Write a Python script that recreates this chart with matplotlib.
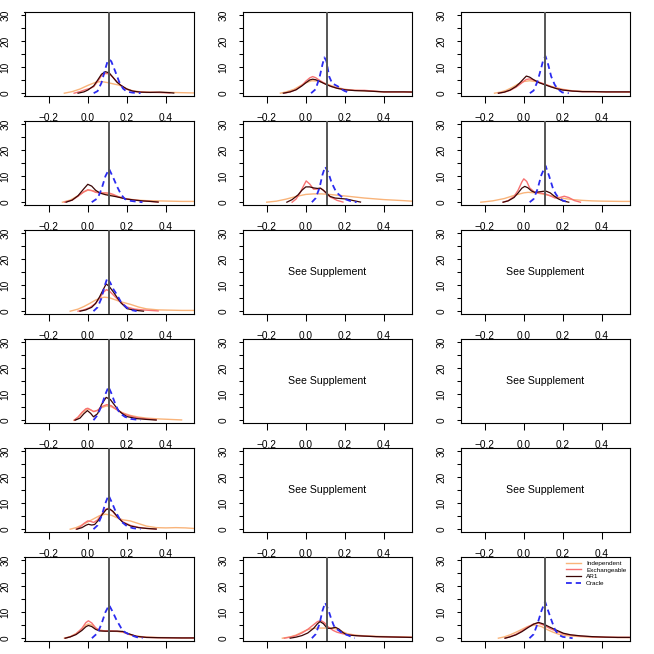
import matplotlib
matplotlib.use("Agg")
import matplotlib.pyplot as plt
from matplotlib.ticker import FixedLocator

plt.rcParams['font.family'] = ['Liberation Sans', 'DejaVu Sans']

# ---------------- data ----------------
true_value = 0.11
x_ticks = [-0.2, 0.0, 0.2, 0.4]
y_major = [0, 10, 20, 30]
y_minor = [5, 15, 25]
series_names = ["Independent", "Exchangeable", "AR1", "Oracle"]
series_colors = ["#F9B47A", "#F77272", "#3A0505", "#2B2BF0"]

# each panel: curve name -> (x values, density values)
panel_r1c1 = {
    "Independent": ([-0.12, -0.08, -0.04, 0.0, 0.04, 0.07, 0.1, 0.13, 0.16, 0.19, 0.22, 0.26, 0.3, 0.36, 0.42, 0.48, 0.54],
                    [0, 0.6, 1.6, 3.0, 4.2, 4.5, 4.1, 3.6, 3.1, 2.0, 1.1, 0.6, 0.4, 0.3, 0.3, 0.2, 0.1]),
    "Exchangeable": ([-0.07, -0.04, -0.01, 0.01, 0.03, 0.05, 0.07, 0.09, 0.11, 0.13, 0.15, 0.17, 0.2, 0.24, 0.3, 0.36, 0.42],
                     [0, 0.6, 1.4, 1.8, 2.5, 4.5, 6.8, 7.6, 7.5, 6.0, 4.3, 3.0, 1.5, 0.6, 0.3, 0.3, 0.1]),
    "AR1": ([-0.05, -0.02, 0.0, 0.03, 0.05, 0.07, 0.09, 0.11, 0.13, 0.15, 0.17, 0.2, 0.23, 0.27, 0.32, 0.37, 0.42, 0.44],
            [0, 0.5, 1.2, 2.8, 5.0, 7.3, 8.3, 7.8, 6.0, 4.2, 3.0, 1.6, 0.8, 0.4, 0.3, 0.4, 0.2, 0.05]),
    "Oracle": ([0.03, 0.05, 0.07, 0.09, 0.10, 0.11, 0.12, 0.14, 0.16, 0.18, 0.20, 0.23, 0.27],
               [0, 0.8, 4.0, 9.5, 12.0, 13.0, 12.3, 8.5, 4.5, 1.8, 0.6, 0.2, 0]),
}
panel_r1c2 = {
    "Independent": ([-0.13, -0.1, -0.06, -0.03, 0.0, 0.03, 0.06, 0.09, 0.12, 0.15, 0.2, 0.25, 0.3, 0.35, 0.4, 0.45, 0.5, 0.54],
                    [0, 0.5, 1.5, 2.8, 4.0, 4.8, 4.7, 4.0, 3.2, 2.4, 1.5, 1.1, 0.9, 0.7, 0.5, 0.5, 0.5, 0.45]),
    "Exchangeable": ([-0.11, -0.08, -0.05, -0.02, 0.0, 0.02, 0.035, 0.05, 0.07, 0.1, 0.13, 0.16, 0.2, 0.25, 0.3, 0.35, 0.4, 0.45, 0.5, 0.54],
                     [0, 0.5, 1.4, 3.0, 4.6, 5.9, 6.4, 6.0, 5.0, 3.6, 2.6, 1.9, 1.4, 1.1, 1.1, 0.8, 0.5, 0.5, 0.5, 0.45]),
    "AR1": ([-0.115, -0.08, -0.05, -0.02, 0.0, 0.02, 0.035, 0.05, 0.07, 0.1, 0.13, 0.16, 0.2, 0.25, 0.3, 0.35, 0.4, 0.45, 0.5, 0.54],
            [0, 0.5, 1.3, 2.8, 4.0, 5.1, 5.4, 5.2, 4.6, 3.5, 2.6, 1.9, 1.3, 1.0, 0.9, 0.7, 0.5, 0.5, 0.5, 0.45]),
    "Oracle": ([0.027, 0.05, 0.07, 0.085, 0.095, 0.105, 0.12, 0.135, 0.15, 0.165, 0.18, 0.2, 0.23],
               [0, 1.5, 6.0, 11.0, 13.8, 12.5, 6.4, 3.8, 3.2, 2.6, 1.6, 0.8, 0]),
}
panel_r1c3 = {
    "Independent": ([-0.15, -0.12, -0.09, -0.06, -0.03, 0.0, 0.03, 0.06, 0.09, 0.12, 0.15, 0.2, 0.25, 0.3, 0.36, 0.42, 0.48, 0.54],
                    [0, 0.4, 1.1, 2.2, 3.5, 4.5, 4.8, 4.5, 3.8, 3.1, 2.4, 1.5, 0.9, 0.7, 0.6, 0.5, 0.5, 0.4]),
    "Exchangeable": ([-0.13, -0.1, -0.07, -0.04, -0.02, 0.0, 0.013, 0.03, 0.05, 0.08, 0.11, 0.14, 0.17, 0.2, 0.25, 0.3, 0.36, 0.42, 0.48, 0.54],
                     [0, 0.4, 1.1, 2.3, 3.4, 4.6, 5.3, 5.5, 5.1, 4.2, 3.4, 2.5, 1.8, 1.3, 0.8, 0.6, 0.6, 0.5, 0.5, 0.5]),
    "AR1": ([-0.13, -0.1, -0.07, -0.04, -0.02, 0.0, 0.013, 0.03, 0.05, 0.08, 0.11, 0.14, 0.17, 0.2, 0.25, 0.3, 0.36, 0.42, 0.48, 0.54],
            [0, 0.4, 1.2, 2.6, 4.0, 5.6, 6.6, 6.2, 5.2, 4.0, 3.2, 2.4, 1.7, 1.2, 0.8, 0.6, 0.6, 0.5, 0.5, 0.5]),
    "Oracle": ([0.031, 0.05, 0.07, 0.09, 0.1, 0.111, 0.125, 0.14, 0.158, 0.175, 0.197, 0.23],
               [0, 1.0, 4.5, 10.0, 13.0, 14.3, 11.0, 6.5, 3.3, 1.5, 0.3, 0]),
}
panel_r2c1 = {
    "Independent": ([-0.13, -0.09, -0.05, -0.02, 0.0, 0.03, 0.06, 0.09, 0.12, 0.15, 0.2, 0.25, 0.3, 0.36, 0.42, 0.48, 0.54],
                    [0, 0.8, 2.5, 4.0, 4.6, 4.4, 3.6, 3.2, 2.8, 2.2, 1.3, 0.8, 0.6, 0.5, 0.4, 0.3, 0.3]),
    "Exchangeable": ([-0.12, -0.08, -0.05, -0.02, 0.0, 0.02, 0.04, 0.06, 0.09, 0.11, 0.13, 0.16, 0.2, 0.24, 0.28, 0.32, 0.36],
                     [0, 0.8, 2.3, 4.0, 4.8, 4.5, 3.8, 3.6, 3.6, 3.5, 3.0, 2.0, 1.2, 0.8, 0.5, 0.3, 0.05]),
    "AR1": ([-0.111, -0.08, -0.05, -0.02, 0.0, 0.02, 0.04, 0.063, 0.09, 0.11, 0.14, 0.17, 0.2, 0.24, 0.28, 0.32, 0.36],
            [0, 0.8, 2.5, 5.2, 6.9, 6.2, 4.6, 3.5, 2.9, 2.6, 2.2, 1.7, 1.2, 0.8, 0.5, 0.3, 0.05]),
    "Oracle": ([0.02, 0.05, 0.07, 0.09, 0.109, 0.13, 0.15, 0.17, 0.19, 0.22, 0.25, 0.28],
               [0, 1.5, 5.0, 10.0, 12.8, 9.5, 6.0, 3.0, 1.2, 0.5, 0.2, 0]),
}
panel_r2c2 = {
    "Independent": ([-0.2, -0.15, -0.1, -0.05, 0.0, 0.04, 0.08, 0.12, 0.16, 0.2, 0.25, 0.3, 0.35, 0.4, 0.45, 0.5, 0.54],
                    [0, 0.4, 1.2, 2.2, 3.0, 3.2, 3.2, 3.0, 2.7, 2.4, 2.0, 1.6, 1.3, 1.0, 0.8, 0.6, 0.4]),
    "Exchangeable": ([-0.07, -0.05, -0.03, -0.01, 0.002, 0.02, 0.04, 0.06, 0.075, 0.09, 0.11, 0.125, 0.14, 0.16, 0.19],
                     [0, 1.2, 3.5, 6.5, 8.2, 7.0, 5.0, 5.1, 5.4, 4.6, 3.0, 2.0, 1.5, 0.7, 0.05]),
    "AR1": ([-0.097, -0.07, -0.04, -0.02, 0.0, 0.02, 0.04, 0.06, 0.075, 0.09, 0.11, 0.125, 0.15, 0.18, 0.21, 0.25, 0.28],
            [0, 1.0, 2.8, 4.6, 5.9, 5.9, 5.5, 5.3, 5.4, 4.6, 3.2, 2.2, 1.6, 1.4, 1.2, 0.5, 0.05]),
    "Oracle": ([0.031, 0.05, 0.07, 0.085, 0.099, 0.115, 0.13, 0.142, 0.155, 0.167, 0.185, 0.2, 0.23, 0.26],
               [0, 1.5, 5.5, 10.5, 13.7, 11.5, 8.0, 6.0, 4.0, 3.1, 2.0, 1.2, 0.4, 0]),
}
panel_r2c3 = {
    "Independent": ([-0.22, -0.16, -0.1, -0.05, 0.0, 0.022, 0.06, 0.1, 0.15, 0.2, 0.25, 0.3, 0.35, 0.4, 0.45, 0.5, 0.54],
                    [0, 0.5, 1.4, 2.6, 3.6, 3.8, 3.6, 3.1, 2.3, 1.5, 1.0, 0.7, 0.5, 0.4, 0.35, 0.3, 0.3]),
    "Exchangeable": ([-0.106, -0.08, -0.05, -0.03, -0.01, 0.0, 0.015, 0.03, 0.056, 0.08, 0.11, 0.14, 0.16, 0.18, 0.207, 0.23, 0.26, 0.29],
                     [0, 0.6, 2.2, 4.5, 7.8, 9.0, 8.0, 5.5, 3.8, 3.6, 3.2, 2.3, 1.6, 1.7, 2.3, 1.8, 0.6, 0]),
    "AR1": ([-0.106, -0.08, -0.05, -0.03, -0.01, 0.005, 0.02, 0.04, 0.056, 0.08, 0.1, 0.116, 0.135, 0.155, 0.176, 0.2, 0.23],
            [0, 0.5, 1.8, 3.5, 5.4, 6.1, 5.6, 4.3, 3.8, 4.0, 4.2, 4.2, 3.6, 2.4, 1.3, 0.5, 0]),
    "Oracle": ([0.03, 0.05, 0.07, 0.09, 0.111, 0.13, 0.15, 0.165, 0.176, 0.2, 0.23],
               [0, 1.2, 5.0, 10.5, 14.1, 10.0, 5.1, 3.0, 1.9, 0.6, 0]),
}
panel_r3c1 = {
    "Independent": ([-0.09, -0.05, -0.02, 0.01, 0.04, 0.07, 0.085, 0.11, 0.14, 0.17, 0.2, 0.22, 0.26, 0.3, 0.36, 0.42, 0.48, 0.54],
                    [0, 0.8, 1.8, 3.0, 4.3, 5.2, 5.4, 5.2, 4.4, 3.6, 3.0, 2.6, 1.6, 0.9, 0.5, 0.4, 0.3, 0.3]),
    "Exchangeable": ([-0.05, -0.02, 0.01, 0.04, 0.06, 0.08, 0.095, 0.11, 0.13, 0.15, 0.17, 0.2, 0.24, 0.28, 0.32, 0.36],
                     [0, 0.5, 1.4, 3.0, 5.0, 7.3, 8.3, 7.8, 6.3, 4.8, 3.3, 1.6, 0.8, 0.5, 0.3, 0.1]),
    "AR1": ([-0.04, -0.01, 0.02, 0.04, 0.06, 0.08, 0.094, 0.11, 0.13, 0.149, 0.17, 0.2, 0.23, 0.26, 0.285],
            [0, 0.5, 1.5, 3.0, 5.5, 8.5, 10.5, 9.5, 7.5, 5.4, 3.2, 1.0, 0.5, 0.2, 0]),
    "Oracle": ([0.029, 0.05, 0.07, 0.085, 0.1, 0.115, 0.13, 0.149, 0.17, 0.2, 0.225, 0.25],
               [0, 1.5, 5.0, 9.5, 12.8, 11.0, 8.6, 6.4, 3.5, 1.3, 0.4, 0]),
}
panel_r4c1 = {
    "Independent": ([-0.07, -0.05, -0.03, -0.01, 0.0, 0.015, 0.03, 0.05, 0.07, 0.095, 0.12, 0.15, 0.18, 0.22, 0.26, 0.3, 0.36, 0.42, 0.48],
                    [0, 1.0, 2.7, 4.0, 4.3, 3.9, 3.4, 3.8, 4.8, 5.5, 5.2, 4.0, 2.8, 1.8, 1.2, 0.8, 0.5, 0.3, 0.1]),
    "Exchangeable": ([-0.07, -0.05, -0.03, -0.01, 0.0, 0.015, 0.03, 0.05, 0.07, 0.097, 0.12, 0.14, 0.17, 0.2, 0.25, 0.3, 0.35],
                     [0, 1.2, 3.0, 4.4, 4.6, 4.0, 3.3, 3.8, 5.2, 6.0, 5.6, 4.5, 3.0, 2.0, 1.0, 0.5, 0.2]),
    "AR1": ([-0.065, -0.04, -0.02, -0.002, 0.015, 0.029, 0.05, 0.07, 0.094, 0.115, 0.14, 0.16, 0.175, 0.2, 0.25, 0.3, 0.35],
            [0, 0.8, 2.5, 3.7, 2.6, 1.3, 2.5, 6.0, 8.8, 8.0, 5.5, 3.6, 2.6, 1.4, 0.6, 0.3, 0.05]),
    "Oracle": ([0.029, 0.05, 0.07, 0.09, 0.106, 0.12, 0.14, 0.155, 0.166, 0.19, 0.22, 0.27],
               [0, 2.0, 5.5, 10.0, 12.9, 10.5, 6.4, 3.8, 2.6, 1.3, 0.5, 0]),
}
panel_r5c1 = {
    "Independent": ([-0.09, -0.06, -0.03, 0.0, 0.03, 0.06, 0.09, 0.12, 0.15, 0.18, 0.217, 0.25, 0.3, 0.35, 0.4, 0.45, 0.5, 0.54],
                    [0, 0.6, 1.6, 2.8, 4.0, 5.2, 5.8, 5.4, 4.4, 3.6, 3.2, 2.4, 1.2, 0.6, 0.5, 0.6, 0.5, 0.3]),
    "Exchangeable": ([-0.06, -0.04, -0.02, 0.0, 0.015, 0.03, 0.05, 0.07, 0.09, 0.106, 0.125, 0.15, 0.18, 0.22, 0.26, 0.3, 0.35],
                     [0, 0.8, 2.2, 3.2, 3.0, 2.6, 3.6, 5.6, 7.6, 8.1, 7.0, 4.8, 2.8, 1.4, 0.7, 0.3, 0.05]),
    "AR1": ([-0.056, -0.03, -0.01, 0.003, 0.02, 0.035, 0.055, 0.075, 0.095, 0.11, 0.13, 0.155, 0.18, 0.22, 0.26, 0.3, 0.35],
            [0, 0.6, 1.5, 1.9, 1.6, 1.8, 3.5, 5.8, 7.6, 7.9, 6.8, 4.5, 2.6, 1.2, 0.6, 0.3, 0.05]),
    "Oracle": ([0.029, 0.05, 0.07, 0.09, 0.106, 0.125, 0.145, 0.17, 0.2, 0.23, 0.27],
               [0, 1.5, 5.0, 10.0, 13.1, 10.0, 6.4, 3.0, 1.2, 0.4, 0]),
}
panel_r6c1 = {
    "Independent": ([-0.12, -0.09, -0.06, -0.03, -0.01, 0.003, 0.02, 0.04, 0.06, 0.09, 0.12, 0.15, 0.18, 0.21, 0.25, 0.3, 0.36, 0.42, 0.48, 0.54],
                    [0, 0.6, 1.8, 3.6, 5.0, 5.5, 5.1, 3.9, 3.1, 2.8, 2.7, 2.6, 2.3, 1.5, 0.8, 0.4, 0.25, 0.2, 0.15, 0.1]),
    "Exchangeable": ([-0.116, -0.09, -0.06, -0.03, -0.01, 0.003, 0.02, 0.04, 0.06, 0.09, 0.12, 0.15, 0.18, 0.21, 0.25, 0.3, 0.36, 0.42, 0.48, 0.54],
                     [0, 0.5, 1.6, 3.8, 6.0, 6.7, 5.9, 4.0, 3.0, 2.8, 2.8, 2.7, 2.4, 1.5, 0.7, 0.3, 0.2, 0.15, 0.1, 0.1]),
    "AR1": ([-0.116, -0.09, -0.06, -0.03, -0.01, 0.003, 0.02, 0.04, 0.06, 0.09, 0.12, 0.15, 0.18, 0.21, 0.25, 0.3, 0.36, 0.42, 0.48, 0.54],
            [0, 0.5, 1.4, 3.0, 4.4, 4.9, 4.5, 3.4, 2.8, 2.7, 2.7, 2.7, 2.6, 1.7, 0.7, 0.3, 0.2, 0.15, 0.1, 0.1]),
    "Oracle": ([0.021, 0.05, 0.07, 0.09, 0.109, 0.125, 0.147, 0.17, 0.19, 0.215, 0.25, 0.28],
               [0, 2.0, 5.5, 10.0, 12.8, 10.5, 7.0, 4.0, 2.3, 1.3, 0.4, 0]),
}
panel_r6c2 = {
    "Independent": ([-0.12, -0.08, -0.05, -0.02, 0.01, 0.04, 0.07, 0.1, 0.13, 0.15, 0.18, 0.21, 0.25, 0.3, 0.36, 0.42, 0.48, 0.54],
                    [0, 0.5, 1.2, 2.3, 3.3, 3.8, 3.9, 3.9, 3.9, 3.7, 2.8, 1.8, 1.2, 0.9, 0.7, 0.6, 0.5, 0.4]),
    "Exchangeable": ([-0.11, -0.08, -0.05, -0.02, 0.01, 0.04, 0.06, 0.077, 0.095, 0.115, 0.14, 0.16, 0.19, 0.22, 0.26, 0.3, 0.36, 0.42, 0.48, 0.54],
                     [0, 0.4, 1.0, 2.0, 3.4, 5.2, 6.4, 6.8, 6.0, 4.3, 3.0, 2.3, 1.7, 1.3, 1.0, 0.8, 0.6, 0.5, 0.4, 0.3]),
    "AR1": ([-0.08, -0.05, -0.02, 0.01, 0.04, 0.06, 0.073, 0.09, 0.11, 0.13, 0.152, 0.17, 0.19, 0.21, 0.25, 0.3, 0.36, 0.42, 0.48, 0.54],
            [0, 0.4, 1.0, 2.0, 3.8, 5.6, 6.4, 5.6, 3.8, 3.8, 4.2, 3.5, 2.2, 1.3, 1.0, 0.8, 0.6, 0.5, 0.4, 0.3]),
    "Oracle": ([0.031, 0.05, 0.07, 0.085, 0.099, 0.115, 0.13, 0.142, 0.152, 0.165, 0.19, 0.21, 0.25],
               [0, 1.5, 5.5, 10.5, 13.7, 11.0, 7.5, 5.1, 3.6, 3.2, 1.8, 1.3, 0]),
}
panel_r6c3 = {
    "Independent": ([-0.13, -0.1, -0.07, -0.04, -0.01, 0.02, 0.058, 0.09, 0.12, 0.15, 0.18, 0.22, 0.27, 0.33, 0.4, 0.47, 0.54],
                    [0, 0.5, 1.3, 2.3, 3.4, 4.5, 5.1, 4.5, 3.3, 2.3, 1.5, 1.0, 0.7, 0.5, 0.35, 0.3, 0.25]),
    "Exchangeable": ([-0.096, -0.07, -0.04, -0.01, 0.02, 0.05, 0.075, 0.1, 0.135, 0.17, 0.203, 0.24, 0.29, 0.35, 0.42, 0.48, 0.54],
                     [0, 0.6, 1.5, 2.8, 4.3, 5.5, 5.8, 5.1, 3.7, 2.6, 1.7, 1.2, 0.8, 0.5, 0.4, 0.3, 0.3]),
    "AR1": ([-0.096, -0.07, -0.04, -0.01, 0.02, 0.05, 0.075, 0.1, 0.135, 0.17, 0.203, 0.24, 0.29, 0.35, 0.42, 0.48, 0.54],
            [0, 0.5, 1.3, 2.5, 4.0, 5.4, 6.1, 5.5, 4.2, 3.0, 1.9, 1.3, 0.9, 0.6, 0.4, 0.3, 0.3]),
    "Oracle": ([0.029, 0.05, 0.07, 0.09, 0.109, 0.125, 0.144, 0.16, 0.178, 0.2, 0.25],
               [0, 1.5, 5.5, 10.5, 14.1, 10.5, 6.4, 3.2, 1.3, 0.5, 0]),
}

grid = [
    [panel_r1c1, panel_r1c2, panel_r1c3],
    [panel_r2c1, panel_r2c2, panel_r2c3],
    [panel_r3c1, None, None],
    [panel_r4c1, None, None],
    [panel_r5c1, None, None],
    [panel_r6c1, panel_r6c2, panel_r6c3],
]
placeholder_text = "See Supplement"

# ---------------- drawing ----------------
W = H = 654
fig = plt.figure(figsize=(6.54, 6.54), dpi=100)
fig.patch.set_facecolor("white")

cell_w, cell_h = 218, 109
box_l, box_w = 24.5, 169
box_t, box_h = 12.3, 84

styles = {
    "Independent": dict(color=series_colors[0], lw=1.0, ls="-"),
    "Exchangeable": dict(color=series_colors[1], lw=1.0, ls="-"),
    "AR1": dict(color=series_colors[2], lw=0.9, ls="-"),
    "Oracle": dict(color=series_colors[3], lw=1.3, ls=(0, (3.2, 2.2))),
}

for r in range(6):
    for c in range(3):
        left = c * cell_w + box_l
        top = r * cell_h + box_t
        ax = fig.add_axes([left / W, 1 - (top + box_h) / H, box_w / W, box_h / H])
        ax.set_xlim(-0.324, 0.541)
        ax.set_ylim(-1.2, 31.2)
        for s in ax.spines.values():
            s.set_linewidth(0.8)
            s.set_color("black")
        ax.xaxis.set_major_locator(FixedLocator(x_ticks))
        ax.set_xticklabels(["\u22120.2", "0.0", "0.2", "0.4"])
        ax.yaxis.set_major_locator(FixedLocator(y_major))
        ax.yaxis.set_minor_locator(FixedLocator(y_minor))
        ax.set_yticklabels([str(v) for v in y_major], rotation=90, va="center")
        # bottom row: tick labels would fall below the figure edge (not visible in the reference)
        ax.tick_params(axis="x", direction="out", length=5.0, width=0.75, pad=7.0, labelsize=7.3,
                       labelbottom=(r < 5))
        ax.tick_params(axis="y", which="both", direction="out", length=2.8, width=0.75, pad=7.5, labelsize=7.3)
        data = grid[r][c]
        if data is None:
            ax.text(0.1085, 15, placeholder_text, ha="center", va="center", fontsize=7.6)
            continue
        for name in series_names:
            xs, ys = data[name]
            ax.plot(xs, ys, label=name, **styles[name])
        ax.axvline(true_value, color="#555555", lw=1.4, zorder=5)
        if r == 5 and c == 2:
            ax.legend(loc="upper right", frameon=False, fontsize=4.6, handlelength=2.4,
                      handletextpad=0.8, labelspacing=0.2, borderaxespad=0.2, borderpad=0.3)

fig.savefig("out.png", dpi=100)
